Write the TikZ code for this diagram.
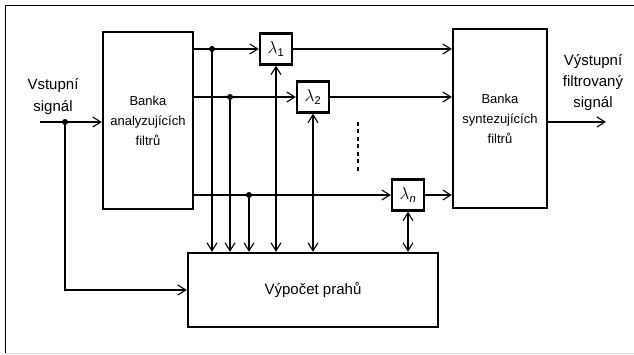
\documentclass[tikz,border=0pt]{standalone}
\usepackage{fontspec}
\setmainfont{Liberation Sans}
\usetikzlibrary{arrows.meta}
\tikzset{
  blok/.style={draw, line width=2.4pt, inner sep=0pt, align=center},
  lam/.style={draw, line width=2.4pt, minimum width=32pt, minimum height=31pt, inner sep=0pt, font=\fontsize{16}{16}\selectfont},
  sig/.style={line width=1.1pt, -{Straight Barb[length=8pt,width=10pt]}},
  obe/.style={line width=1.1pt, {Straight Barb[length=8pt,width=10pt]}-{Straight Barb[length=8pt,width=10pt]}},
  uzel/.style={fill, circle, inner sep=0pt, minimum size=6pt},
}
\begin{document}
\begin{tikzpicture}[x=1pt, y=-1pt]
    \useasboundingbox (0,0) rectangle (634,355);
    % ramecek obrazku
    \draw[line width=0.8pt] (634,5) -- (5,5) -- (5,353);
    \draw[gray!25, line width=1pt] (5,353) -- (634,353);
    \node[blok, minimum width=90pt, minimum height=177pt, font=\fontsize{13}{20}\selectfont] (an) at (148,120.5) {Banka\\analyzujících\\filtrů};
    \node[blok, minimum width=94pt, minimum height=179pt, font=\fontsize{13}{20}\selectfont] (sy) at (500,118.5) {Banka\\syntezujících\\filtrů};
    \node[blok, minimum width=250pt, minimum height=74pt, font=\fontsize{15}{18}\selectfont] (th) at (313,290) {Výpočet prahů};
    \node[lam] (l1) at (276,49) {$\lambda$\textsubscript{1}};
    \node[lam] (l2) at (313,97) {$\lambda$\textsubscript{2}};
    \node[lam] (ln) at (408,195) {$\lambda$\textsubscript{\itshape n}};
    \node[align=center, font=\fontsize{15}{22}\selectfont] (vst) at (53,97) {Vstupní\\signál};
    \node[align=center, font=\fontsize{15}{21}\selectfont] (vyst) at (593,83) {Výstupní\\filtrovaný\\signál};
    \coordinate (in) at (40,122);
    \coordinate (out) at (606,122);
    \node[uzel] (din) at (65,122) {};
    \node[uzel] (d1) at (212,49) {};
    \node[uzel] (d2) at (230,97) {};
    \node[uzel] (dn) at (249,195) {};
    % vstup
    \draw[sig] (in) -- (in -| an.west);
    \draw[sig] (din) |- (th.west);
    % vetve
    \draw[sig] (an.east |- l1) -- (l1.west);
    \draw[sig] (l1.east) -- (l1 -| sy.west);
    \draw[sig] (an.east |- l2) -- (l2.west);
    \draw[sig] (l2.east) -- (l2 -| sy.west);
    \draw[sig] (an.east |- ln) -- (ln.west);
    \draw[sig] (ln.east) -- (ln -| sy.west);
    \draw[sig] (out -| sy.east) -- (out);
    % odbocky do vypoctu prahu
    \draw[sig] (d1) -- (d1 |- th.north);
    \draw[sig] (d2) -- (d2 |- th.north);
    \draw[sig] (dn) -- (dn |- th.north);
    \draw[obe] (l1.south) -- (l1.south |- th.north);
    \draw[obe] (l2.south) -- (l2.south |- th.north);
    \draw[obe] (ln.south) -- (ln.south |- th.north);
    \draw[line width=2pt, dash pattern=on 4pt off 3.5pt] (358,122) -- (358,173);
\end{tikzpicture}
\end{document}
